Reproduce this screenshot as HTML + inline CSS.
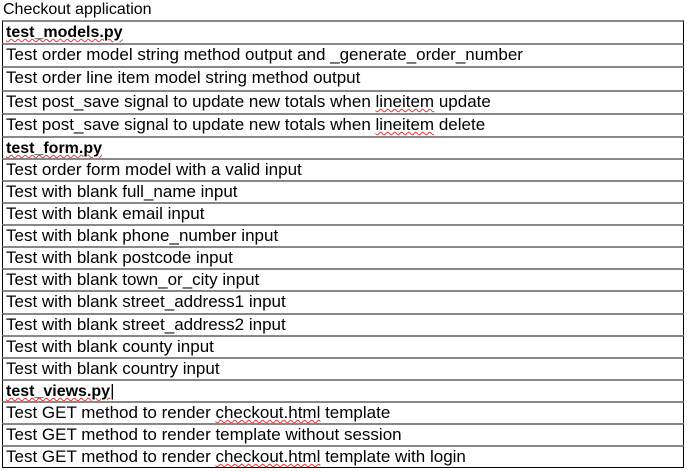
<!DOCTYPE html><html><head><style>
body{margin:0;width:687px;height:471px;background:#fff;position:relative;font-family:"Liberation Sans",Arial,sans-serif;font-size:17px;color:#000;overflow:hidden}
.t{position:absolute;left:3px;top:1px;font-size:16px}
.r{position:absolute;left:2px;width:682px;border:1px solid #000;border-top:2px solid #888;box-sizing:border-box;padding-left:3px;line-height:20px;white-space:nowrap}
b{font-weight:bold;font-size:16px}
.s{text-decoration:underline wavy #e33;text-decoration-thickness:1px}
</style></head><body>
<div class="t">Checkout application</div>
<div class="r" style="top:20px;height:24px"><b class="s">test_models.py</b></div>
<div class="r" style="top:43px;height:24px">Test order model string method output and _generate_order_number</div>
<div class="r" style="top:66px;height:25px">Test order line item model string method output</div>
<div class="r" style="top:90px;height:24px">Test post_save signal to update new totals when <span class="s">lineitem</span> update</div>
<div class="r" style="top:113px;height:24px">Test post_save signal to update new totals when <span class="s">lineitem</span> delete</div>
<div class="r" style="top:136px;height:23px"><b class="s">test_form.py</b></div>
<div class="r" style="top:158px;height:23px">Test order form model with a valid input</div>
<div class="r" style="top:180px;height:23px">Test with blank full_name input</div>
<div class="r" style="top:202px;height:23px">Test with blank email input</div>
<div class="r" style="top:224px;height:23px">Test with blank phone_number input</div>
<div class="r" style="top:246px;height:23px">Test with blank postcode input</div>
<div class="r" style="top:268px;height:23px">Test with blank town_or_city input</div>
<div class="r" style="top:290px;height:24px">Test with blank street_address1 input</div>
<div class="r" style="top:313px;height:23px">Test with blank street_address2 input</div>
<div class="r" style="top:335px;height:23px">Test with blank county input</div>
<div class="r" style="top:357px;height:23px">Test with blank country input</div>
<div class="r" style="top:379px;height:23px"><b class="s">test_views.py</b>|</div>
<div class="r" style="top:401px;height:23px">Test GET method to render <span class="s">checkout.html</span> template</div>
<div class="r" style="top:423px;height:23px">Test GET method to render template without session</div>
<div class="r" style="top:445px;height:23px">Test GET method to render <span class="s">checkout.html</span> template with login</div>
</body></html>
